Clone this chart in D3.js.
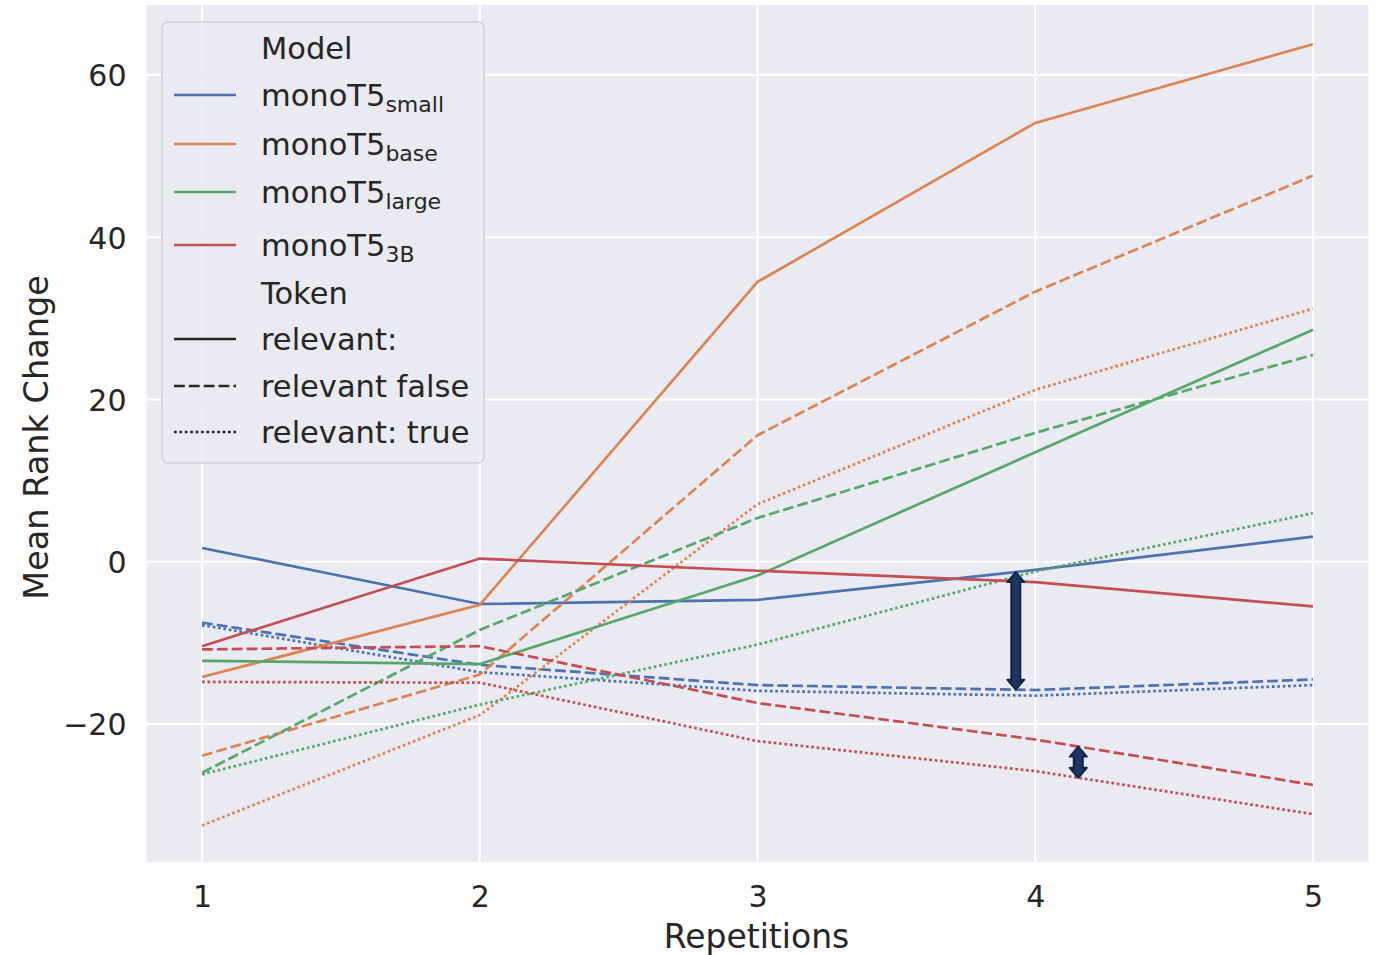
<!DOCTYPE html>
<html lang="en">
<head>
<meta charset="UTF-8"/>
<title>Mean Rank Change vs Repetitions</title>
<script src="https://d3js.org/d3.v7.min.js"></script>
<style>
  body { margin: 0; background: #fff; }
  text { font-family: "DejaVu Sans", sans-serif; fill: #262626; }
</style>
</head>
<body>
<script>
// ---------- data ----------
var reps = [1, 2, 3, 4, 5];
var yTicks = [-20, 0, 20, 40, 60];

var modelNames = ["small", "base", "large", "3B"];
var modelColors = ["#4c72b0", "#dd8452", "#55a868", "#c44e52"];
var tokenNames = ["relevant:", "relevant false", "relevant: true"];

// one array per model / token
var smallRel   = [1.7, -5.2, -4.7, -1.0, 3.1];
var smallFalse = [-7.5, -12.7, -15.2, -15.8, -14.5];
var smallTrue  = [-7.8, -13.6, -15.9, -16.5, -15.2];

var baseRel   = [-14.2, -5.3, 34.5, 54.1, 63.8];
var baseFalse = [-23.9, -13.9, 15.6, 33.3, 47.6];
var baseTrue  = [-32.5, -18.9, 7.1, 21.2, 31.2];

var largeRel   = [-12.2, -12.6, -1.7, 13.5, 28.6];
var largeFalse = [-26.0, -8.4, 5.4, 15.9, 25.5];
var largeTrue  = [-26.2, -17.6, -10.2, -1.2, 6.0];

var b3Rel   = [-10.4, 0.4, -1.1, -2.5, -5.5];
var b3False = [-10.8, -10.4, -17.4, -21.9, -27.5];
var b3True  = [-14.8, -14.9, -22.1, -25.8, -31.1];

var seriesByModel = [
  [smallRel, smallFalse, smallTrue],
  [baseRel, baseFalse, baseTrue],
  [largeRel, largeFalse, largeTrue],
  [b3Rel, b3False, b3True]
];

// gap arrows: position on x axis and the two series they join
var arrowReps = [3.93, 4.155];
var arrowFrom = [smallRel, b3False];
var arrowTo   = [smallFalse, b3True];

// ---------- layout ----------
var w = 1378, h = 955;
var pLeft = 146.5, pRight = 1368.5, pTop = 5, pBottom = 862;
var lw = 2.7;
var dashes = ["none", (4*lw) + "," + (1.5*lw), lw + "," + lw];

var xScale = d3.scaleLinear().domain([0.8, 5.2]).range([pLeft, pRight]);
var yScale = d3.scaleLinear().domain([-37.0, 68.63]).range([pBottom, pTop]);

var svg = d3.select("body").append("svg")
            .attr("width", w)
            .attr("height", h);

svg.append("rect")
   .attr("x", pLeft).attr("y", pTop)
   .attr("width", pRight - pLeft).attr("height", pBottom - pTop)
   .attr("fill", "#eaeaf2");

//------------grid-------------
svg.selectAll(".gx").data(reps).enter().append("line")
   .attr("x1", function(d){ return xScale(d); })
   .attr("x2", function(d){ return xScale(d); })
   .attr("y1", pTop).attr("y2", pBottom)
   .attr("stroke", "#fff").attr("stroke-width", 2);

svg.selectAll(".gy").data(yTicks).enter().append("line")
   .attr("y1", function(d){ return yScale(d); })
   .attr("y2", function(d){ return yScale(d); })
   .attr("x1", pLeft).attr("x2", pRight)
   .attr("stroke", "#fff").attr("stroke-width", 2);

//------------axes-------------
var xAxis = svg.append("g")
   .attr("transform", "translate(0," + (pBottom + 24) + ")")
   .call(d3.axisBottom(xScale).tickValues(reps).tickSize(0).tickPadding(0)
          .tickFormat(d3.format("d")));
var yAxis = svg.append("g")
   .attr("transform", "translate(" + (pLeft - 20) + ",0)")
   .call(d3.axisLeft(yScale).tickValues(yTicks).tickSize(0).tickPadding(0)
          .tickFormat(function(d){ return d < 0 ? "\u2212" + Math.abs(d) : d; }));
svg.selectAll(".domain").remove();
xAxis.selectAll("text").attr("font-size", 30).attr("dy", "0.71em")
     .style("font-family", "DejaVu Sans").attr("fill", "#262626");
yAxis.selectAll("text").attr("font-size", 30).attr("dy", "0.36em")
     .style("font-family", "DejaVu Sans").attr("fill", "#262626");

svg.append("text")
   .attr("x", (pLeft + pRight) / 2 - 1).attr("y", 948)
   .attr("text-anchor", "middle").attr("font-size", 33)
   .text("Repetitions");

svg.append("text")
   .attr("transform", "translate(48," + ((pTop + pBottom) / 2 + 4) + ") rotate(-90)")
   .attr("text-anchor", "middle").attr("font-size", 33.5)
   .text("Mean Rank Change");

//------------lines-------------
var line = d3.line()
   .x(function(d, i){ return xScale(reps[i]); })
   .y(function(d){ return yScale(d); });

var plot = svg.append("g");
seriesByModel.forEach(function(group, m) {
  group.forEach(function(values, t) {
    plot.append("path")
        .datum(values)
        .attr("d", line)
        .attr("fill", "none")
        .attr("stroke", modelColors[m])
        .attr("stroke-width", lw)
        .attr("stroke-dasharray", dashes[t]);
  });
});

//------------arrows-------------
function interp(values, r) {
  var i = Math.min(Math.floor(r) - 1, values.length - 2);
  var f = r - (i + 1);
  return values[i] + (values[i + 1] - values[i]) * f;
}

arrowReps.forEach(function(r, k) {
  var x = xScale(r);
  var y1 = yScale(interp(arrowFrom[k], r));
  var y2 = yScale(interp(arrowTo[k], r));
  var sw = 4.5, hw = 8.5, hl = 10;
  var pts = [
    [x, y1], [x + hw, y1 + hl], [x + sw, y1 + hl],
    [x + sw, y2 - hl], [x + hw, y2 - hl], [x, y2],
    [x - hw, y2 - hl], [x - sw, y2 - hl], [x - sw, y1 + hl],
    [x - hw, y1 + hl]
  ];
  svg.append("polygon")
     .attr("points", pts.map(function(p){ return p.join(","); }).join(" "))
     .attr("fill", "#1d3561")
     .attr("stroke", "#10244a")
     .attr("stroke-width", 2)
     .attr("stroke-linejoin", "round");
});

//------------legend-------------
var legend = svg.append("g");
legend.append("rect")
   .attr("x", 162).attr("y", 22).attr("width", 322).attr("height", 441)
   .attr("rx", 6)
   .attr("fill", "#eaeaf2").attr("fill-opacity", 0.85)
   .attr("stroke", "#cfcfd6").attr("stroke-width", 1.5);

var rowY = [48, 95, 144, 192, 245, 293, 339, 386, 432];
var rows = [{ title: "Model" }];
modelNames.forEach(function(n, i){ rows.push({ model: n, color: modelColors[i], dash: "none" }); });
rows.push({ title: "Token" });
tokenNames.forEach(function(n, i){ rows.push({ label: n, color: "#262626", dash: dashes[i] }); });

rows.forEach(function(r, i) {
  var y = rowY[i];
  if (!r.title) {
    legend.append("line")
       .attr("x1", 174).attr("x2", 236).attr("y1", y).attr("y2", y)
       .attr("stroke", r.color).attr("stroke-width", lw)
       .attr("stroke-dasharray", r.dash);
  }
  var t = legend.append("text")
     .attr("x", 261).attr("y", y + 11).attr("font-size", 30.5);
  if (r.title) t.text(r.title);
  else if (r.label) t.text(r.label);
  else {
    t.append("tspan").text("monoT5");
    t.append("tspan").attr("font-size", 22).attr("dy", 6).text(r.model);
  }
});
</script>
</body>
</html>
